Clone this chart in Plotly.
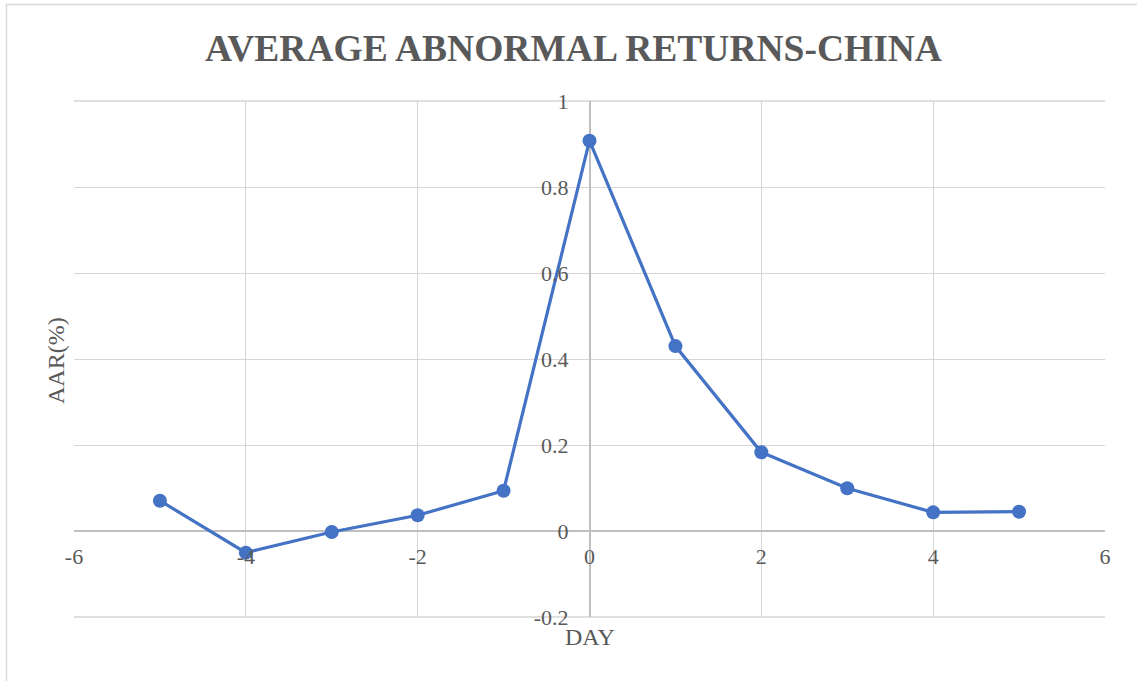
import plotly.graph_objects as go

days = [-5, -4, -3, -2, -1, 0, 1, 2, 3, 4, 5]
aar = [0.0705, -0.0504, -0.0023, 0.0365, 0.0937, 0.9077, 0.430, 0.183, 0.0993, 0.0434, 0.0449]

x_ticks = [-6, -4, -2, 0, 2, 4, 6]
y_ticks = [-0.2, 0, 0.2, 0.4, 0.6, 0.8, 1]
y_tick_text = ["-0.2", "0", "0.2", "0.4", "0.6", "0.8", "1"]

title_text = "AVERAGE ABNORMAL RETURNS-CHINA"
x_title = "DAY"
y_title = "AAR(%)"

W, H = 1137, 681
L, R, T, B = 74, 1105, 101, 617
pw, ph = R - L, B - T

def px_x(p):
    return (p - L) / pw

def px_y(p):
    return (B - p) / ph

grey = "#595959"
grid = "#d6d6d6"
font_fam = "Liberation Serif, Times New Roman, serif"

fig = go.Figure()
fig.add_trace(go.Scatter(
    x=days, y=aar, mode="lines+markers",
    line=dict(color="#4472C4", width=3.2),
    marker=dict(color="#4472C4", size=14),
    showlegend=False,
    cliponaxis=False,
))

fig.update_layout(
    width=W, height=H,
    margin=dict(l=L, r=W - R, t=T, b=H - B),
    paper_bgcolor="white", plot_bgcolor="white",
    title=dict(text=f"<b>{title_text}</b>", x=573.5 / W, xref="container", xanchor="center",
               y=1 - 48 / H, yref="container", yanchor="middle",
               font=dict(family=font_fam, size=37.5, color=grey)),
    xaxis=dict(range=[-6, 6], tickvals=x_ticks, ticktext=[str(v) for v in x_ticks],
               showgrid=True, gridcolor=grid, gridwidth=1.3,
               zeroline=True, zerolinecolor="#bfbfbf", zerolinewidth=1.5,
               showline=False, ticks="", anchor="free", position=px_y(531),
               ticklabelstandoff=10,
               tickfont=dict(family=font_fam, size=22, color=grey)),
    yaxis=dict(range=[-0.2, 1], tickvals=y_ticks, ticktext=y_tick_text,
               showgrid=True, gridcolor=grid, gridwidth=1.3,
               zeroline=True, zerolinecolor="#bfbfbf", zerolinewidth=1.5,
               showline=False, ticks="", anchor="free", position=0.5,
               ticklabelstandoff=21,
               tickfont=dict(family=font_fam, size=22, color=grey)),
    annotations=[
        dict(text=x_title, xref="paper", yref="paper", x=px_x(590), y=px_y(636.5),
             xanchor="center", yanchor="middle", showarrow=False,
             font=dict(family=font_fam, size=24, color=grey)),
        dict(text=y_title, xref="paper", yref="paper", x=px_x(56), y=px_y(361),
             xanchor="center", yanchor="middle", showarrow=False, textangle=-90,
             font=dict(family=font_fam, size=24, color=grey)),
    ],
    shapes=[
        dict(type="rect", xref="paper", yref="paper",
             x0=px_x(6.5), x1=px_x(1141), y0=px_y(690), y1=px_y(4.5),
             line=dict(color="#d9d9d9", width=1.5), fillcolor="rgba(0,0,0,0)", layer="below"),
        dict(type="line", xref="paper", yref="paper", x0=0, x1=1, y0=0, y1=0,
             line=dict(color=grid, width=1.3), layer="below"),
        dict(type="line", xref="paper", yref="paper", x0=0, x1=1, y0=1, y1=1,
             line=dict(color=grid, width=1.3), layer="below"),
    ],
)

fig.write_html("out.html", config={"displayModeBar": False},
               post_script="document.body.style.margin='0';document.body.style.overflow='hidden';")
